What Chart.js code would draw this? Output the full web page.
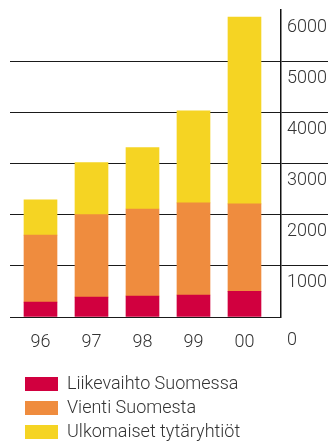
<!DOCTYPE html>
<html>
<head>
<meta charset="utf-8">
<style>
  html, body { margin: 0; padding: 0; background: #fff; }
  #wrap { width: 328px; height: 441px; }
</style>
</head>
<body>
<div id="wrap"><canvas id="liikevaihtoChart"></canvas></div>
<script src="https://cdn.jsdelivr.net/npm/chart.js"></script>
<script>
// Vuodet (x-akseli)
const years = ['96', '97', '98', '99', '00'];

// Sarjat, pinottuina alhaalta ylös
const liikevaihtoSuomessa = [290, 390, 410, 430, 500];
const vientiSuomesta = [1310, 1610, 1700, 1800, 1710];
const ulkomaisetTytaryhtiot = [690, 1020, 1200, 1800, 3650];

// y-akselin arvot
const yTicks = [0, 1000, 2000, 3000, 4000, 5000, 6000];

const textColor = '#333';
const lineColor = '#1a1a1a';
const font = { family: 'Roboto', size: 18, weight: '300' };

function points(values) {
    return values.map((v, i) => ({ x: i, y: v }));
}

// Legend sits a bit to the right and lower than Chart.js puts it
const nudgeLegend = {
    id: 'nudgeLegend',
    afterLayout(chart) {
        chart.legend.left += 9;
        chart.legend.top += 10;
    }
};

document.addEventListener('DOMContentLoaded', function() {
    const ctx = document.getElementById('liikevaihtoChart').getContext('2d');

    new Chart(ctx, {
        type: 'bar',
        data: {
            datasets: [
                {
                    label: 'Liikevaihto Suomessa',
                    data: points(liikevaihtoSuomessa),
                    backgroundColor: '#d1003f'
                },
                {
                    label: 'Vienti Suomesta',
                    data: points(vientiSuomesta),
                    backgroundColor: '#ef8c3e'
                },
                {
                    label: 'Ulkomaiset tytäryhtiöt',
                    data: points(ulkomaisetTytaryhtiot),
                    backgroundColor: '#f5d423'
                }
            ]
        },
        options: {
            responsive: true,
            maintainAspectRatio: false,
            animation: false,
            devicePixelRatio: 1,
            barThickness: 33,
            layout: {
                padding: { left: 10, top: 10, right: 0, bottom: 0 }
            },
            plugins: {
                tooltip: { enabled: false },
                legend: {
                    position: 'bottom',
                    align: 'start',
                    labels: {
                        boxWidth: 33,
                        boxHeight: 14,
                        padding: 6,
                        color: textColor,
                        font: font
                    }
                }
            },
            scales: {
                x: {
                    type: 'linear',
                    stacked: true,
                    offset: false,
                    min: -0.598,
                    max: 4.716,
                    afterFit: function(scale) {
                        scale.height = 42;
                    },
                    grid: { display: false },
                    border: { display: false },
                    ticks: {
                        stepSize: 1,
                        includeBounds: false,
                        autoSkip: false,
                        maxRotation: 0,
                        padding: 7,
                        color: textColor,
                        font: font,
                        callback: function(value) {
                            return Number.isInteger(value) && years[value] !== undefined ? years[value] : '';
                        }
                    }
                },
                y: {
                    position: 'right',
                    stacked: true,
                    min: yTicks[0],
                    max: yTicks[yTicks.length - 1],
                    afterBuildTicks: function(scale) {
                        scale.ticks = yTicks.map(v => ({ value: v }));
                    },
                    afterFit: function(scale) {
                        scale.width = 47;
                        scale.paddingTop = 0;
                        scale.paddingBottom = 0;
                    },
                    grid: {
                        lineWidth: 1,
                        tickLength: 47,
                        color: function(c) {
                            return c.tick && c.tick.value === 6000 ? 'rgba(0,0,0,0)' : lineColor;
                        },
                        tickColor: function(c) {
                            return c.tick && (c.tick.value === 6000 || c.tick.value === 0) ? 'rgba(0,0,0,0)' : lineColor;
                        }
                    },
                    border: {
                        display: true,
                        color: '#111',
                        width: 1.5
                    },
                    ticks: {
                        padding: -41,
                        labelOffset: 17,
                        color: textColor,
                        font: { family: 'Roboto', size: 18, weight: '300', lineHeight: 0.75 },
                        callback: function(value) {
                            // 0 sits on the same line as the year labels
                            return value === 0 ? ['', '0'] : String(value);
                        }
                    }
                }
            }
        },
        plugins: [nudgeLegend]
    });
});
</script>
</body>
</html>
